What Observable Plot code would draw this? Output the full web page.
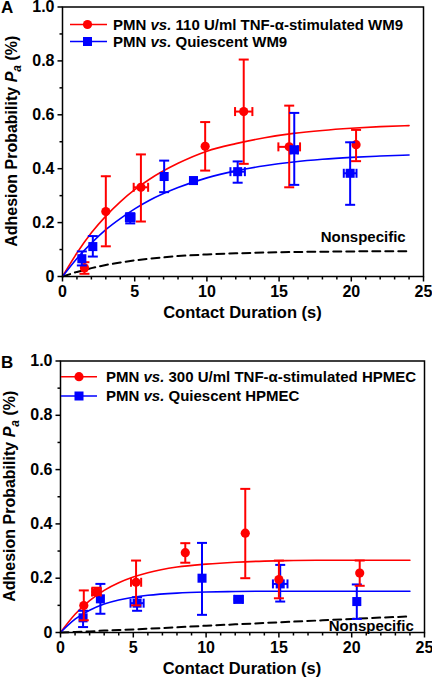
<!DOCTYPE html>
<html>
<head>
<meta charset="utf-8">
<script src="https://cdn.jsdelivr.net/npm/d3@7"></script>
<script src="https://cdn.jsdelivr.net/npm/@observablehq/plot@0.6"></script>
<style>
  html, body { margin: 0; padding: 0; background: #fff; }
  #chart svg { display: block; }
</style>
</head>
<body>
<div id="chart"></div>
<script>
// ---------- Axis ticks ----------
const xMajorTicks = [0, 5, 10, 15, 20, 25];
const xMinorTicks = [1, 2, 3, 4, 6, 7, 8, 9, 11, 12, 13, 14, 16, 17, 18, 19, 21, 22, 23, 24];
const yMajorTicks = [0, 0.2, 0.4, 0.6, 0.8, 1.0];
const yMajorLabels = ["0", "0.2", "0.4", "0.6", "0.8", "1.0"];
const yMinorTicks = [0.1, 0.3, 0.5, 0.7, 0.9];

// ---------- Panel A : WM9 ----------
const aRedT  = [1.52, 3.0, 5.43, 9.88, 12.55, 15.7, 20.33];
const aRedP  = [0.032, 0.241, 0.331, 0.483, 0.612, 0.481, 0.489];
const aRedLo = [0.010, 0.112, 0.204, 0.393, 0.418, 0.331, 0.428];
const aRedHi = [0.053, 0.372, 0.453, 0.573, 0.805, 0.634, 0.544];
const aRedTe = [0, 0, 0.5, 0, 0.6, 0.75, 0];

const aBlueT  = [1.34, 2.1, 4.69, 7.04, 9.07, 12.13, 16.05, 19.92];
const aBlueP  = [0.066, 0.111, 0.218, 0.371, 0.356, 0.389, 0.470, 0.383];
const aBlueLo = [0.041, 0.074, 0.197, 0.313, 0.356, 0.348, 0.340, 0.266];
const aBlueHi = [0.093, 0.150, 0.235, 0.430, 0.356, 0.427, 0.607, 0.498];
const aBlueTe = [0, 0, 0.3, 0, 0, 0.5, 0.25, 0.44];

const curveT = [0, 1, 2, 3, 4, 5, 6, 8, 10, 12, 14, 16, 18, 20, 22, 24];
const aRedFit  = [0, 0.087, 0.162, 0.224, 0.277, 0.322, 0.360, 0.420, 0.465, 0.493, 0.515, 0.531, 0.542, 0.550, 0.556, 0.560];
const aBlueFit = [0, 0.067, 0.124, 0.174, 0.215, 0.251, 0.282, 0.330, 0.366, 0.392, 0.411, 0.425, 0.435, 0.442, 0.447, 0.451];
const aNonspec = [0, 0.017, 0.031, 0.043, 0.052, 0.060, 0.066, 0.076, 0.082, 0.086, 0.089, 0.091, 0.092, 0.093, 0.094, 0.094];

const aLegend = ["110 U/ml TNF-\u03b1-stimulated WM9", "Quiescent WM9"];

// ---------- Panel B : HPMEC ----------
const bRedT  = [1.6, 2.47, 5.19, 8.57, 12.69, 15.0, 20.55];
const bRedP  = [0.099, 0.149, 0.185, 0.294, 0.366, 0.195, 0.219];
const bRedLo = [0.045, 0.138, 0.100, 0.257, 0.200, 0.126, 0.172];
const bRedHi = [0.155, 0.165, 0.265, 0.329, 0.529, 0.265, 0.265];
const bRedTe = [0, 0.3, 0.35, 0, 0, 0, 0];

const bBlueT  = [1.55, 2.74, 5.26, 9.72, 12.23, 15.09, 20.35];
const bBlueP  = [0.054, 0.124, 0.108, 0.200, 0.122, 0.179, 0.114];
const bBlueLo = [0.020, 0.069, 0.080, 0.065, 0.122, 0.114, 0.050];
const bBlueHi = [0.080, 0.179, 0.130, 0.330, 0.122, 0.249, 0.177];
const bBlueTe = [0, 0, 0.45, 0, 0.3, 0.5, 0];

const bRedFit  = [0, 0.067, 0.117, 0.155, 0.183, 0.204, 0.220, 0.241, 0.252, 0.259, 0.263, 0.265, 0.266, 0.266, 0.266, 0.266];
const bBlueFit = [0, 0.049, 0.082, 0.105, 0.120, 0.130, 0.137, 0.145, 0.149, 0.151, 0.152, 0.152, 0.152, 0.152, 0.152, 0.152];
const bNonspec = [0, 0.002, 0.004, 0.007, 0.009, 0.011, 0.014, 0.019, 0.025, 0.030, 0.035, 0.040, 0.045, 0.050, 0.055, 0.059];

const bLegend = ["300 U/ml TNF-\u03b1-stimulated HPMEC", "Quiescent HPMEC"];

// ---------- helpers ----------
const RED = "#ff0000", BLUE = "#0000ff";
const FONT = "'Liberation Sans', Arial, Helvetica, sans-serif";

const pts = (T, P, Lo, Hi, Te) => T.map((t, i) => ({t, p: P[i], lo: Lo[i], hi: Hi[i], te: Te[i]}));
const crv = (Y) => curveT.map((t, i) => ({t, p: Y[i]}));

const rOf = (size) => Math.sqrt(size / Math.PI);
const capH = {draw(ctx, s) { const w = rOf(s); ctx.moveTo(-w, 0); ctx.lineTo(w, 0); }};
const capV = {draw(ctx, s) { const w = rOf(s); ctx.moveTo(0, -w); ctx.lineTo(0, w); }};
const tickLeft = {draw(ctx, s) { const w = rOf(s); ctx.moveTo(-w, 0); ctx.lineTo(0, 0); }};
const tickDown = {draw(ctx, s) { const w = rOf(s); ctx.moveTo(0, 0); ctx.lineTo(0, w); }};

function seriesMarks(data, color, symbol) {
  const withY = data.filter(d => d.hi > d.lo);
  const withX = data.filter(d => d.te > 0);
  return [
    Plot.ruleX(withY, {x: "t", y1: "lo", y2: "hi", stroke: color, strokeWidth: 2}),
    Plot.dot(withY, {x: "t", y: "hi", symbol: capH, r: 5, stroke: color, strokeWidth: 2}),
    Plot.dot(withY, {x: "t", y: "lo", symbol: capH, r: 5, stroke: color, strokeWidth: 2}),
    Plot.ruleY(withX, {y: "p", x1: d => d.t - d.te, x2: d => d.t + d.te, stroke: color, strokeWidth: 2}),
    Plot.dot(withX, {x: d => d.t - d.te, y: "p", symbol: capV, r: 4.5, stroke: color, strokeWidth: 2}),
    Plot.dot(withX, {x: d => d.t + d.te, y: "p", symbol: capV, r: 4.5, stroke: color, strokeWidth: 2}),
    Plot.dot(data, {x: "t", y: "p", symbol, r: symbol === "circle" ? 4.6 : 5.1, fill: color, stroke: null})
  ];
}

function axisMarks() {
  return [
    Plot.dot(yMinorTicks, {x: () => 0, y: d => d, symbol: tickLeft, r: 3, stroke: "#000", strokeWidth: 1.5}),
    Plot.dot(yMajorTicks, {x: () => 0, y: d => d, symbol: tickLeft, r: 5, stroke: "#000", strokeWidth: 1.5}),
    Plot.dot(xMinorTicks, {x: d => d, y: () => 0, symbol: tickDown, r: 3, stroke: "#000", strokeWidth: 1.5}),
    Plot.dot(xMajorTicks, {x: d => d, y: () => 0, symbol: tickDown, r: 5, stroke: "#000", strokeWidth: 1.5}),
    Plot.text(yMajorTicks, {x: () => 0, y: d => d, text: (d, i) => yMajorLabels[i], textAnchor: "end", dx: -8,
      fontSize: 16, fontWeight: "bold", fill: "#000"}),
    Plot.text(xMajorTicks, {x: d => d, y: () => 0, text: d => String(d), dy: 15,
      fontSize: 16, fontWeight: "bold", fill: "#000"}),
    Plot.frame({stroke: "#000", strokeWidth: 1.5})
  ];
}

function panel(cfg) {
  const red = pts(...cfg.red), blue = pts(...cfg.blue);
  const redS = seriesMarks(red, RED, "circle");
  const blueS = seriesMarks(blue, BLUE, "square");
  const plot = Plot.plot({
    width: 432,
    height: 343,
    marginLeft: cfg.ml, marginRight: cfg.mr, marginTop: cfg.mt, marginBottom: cfg.mb,
    x: {domain: [0, 25], axis: null},
    y: {domain: [0, 1], axis: null},
    style: {fontFamily: FONT, fontSize: "15px", fontWeight: "bold", color: "#000", background: "#fff", overflow: "visible"},
    marks: [
      Plot.line(crv(cfg.nonspec), {x: "t", y: "p", stroke: "#000", strokeWidth: 2, strokeDasharray: "8,5"}),
      Plot.line(crv(cfg.redFit), {x: "t", y: "p", stroke: RED, strokeWidth: 1.6, curve: "monotone-x"}),
      Plot.line(crv(cfg.blueFit), {x: "t", y: "p", stroke: BLUE, strokeWidth: 1.6, curve: "monotone-x"}),
      ...(cfg.redFirst ? [...redS, ...blueS] : [...blueS, ...redS]),
      ...axisMarks()
    ]
  });

  const sx = plot.scale("x"), sy = plot.scale("y");
  const X = v => sx.apply(v), Y = v => sy.apply(v);
  const svg = d3.select(plot);
  const g = svg.append("g").attr("font-family", FONT).attr("font-weight", "bold")
    .attr("fill", "#000").attr("text-anchor", "start");

  // panel letter
  g.append("text").attr("x", 1).attr("y", cfg.letterY).attr("font-size", 17).text(cfg.letter);

  // y title
  const yt = g.append("text")
    .attr("transform", `translate(${cfg.yTitleX},${(Y(0) + Y(1)) / 2}) rotate(-90)`)
    .attr("text-anchor", "middle").attr("font-size", 16);
  yt.append("tspan").text("Adhesion Probability ");
  yt.append("tspan").attr("font-style", "italic").text("P");
  yt.append("tspan").attr("font-style", "italic").attr("font-size", 12).attr("dy", 4).text("a");
  yt.append("tspan").attr("dy", -4).text(" (%)");

  // x title
  g.append("text").attr("x", (X(0) + X(25)) / 2).attr("y", Y(0) + 42)
    .attr("text-anchor", "middle").attr("font-size", 16.5).text("Contact Duration (s)");

  // Nonspecific label
  g.append("text").attr("x", X(cfg.nsX)).attr("y", Y(cfg.nsY))
    .attr("text-anchor", "end").attr("font-size", 15).text("Nonspecific");

  // legend
  const L = cfg.legend;
  [[RED, "circle", cfg.legendText[0]], [BLUE, "square", cfg.legendText[1]]].forEach(([c, s, label], i) => {
    const yy = L.y + i * L.dy;
    g.append("line").attr("x1", L.x0).attr("x2", L.x1).attr("y1", yy).attr("y2", yy)
      .attr("stroke", c).attr("stroke-width", 1.6);
    if (s === "circle") g.append("circle").attr("cx", L.xm).attr("cy", yy).attr("r", 4.6).attr("fill", c);
    else g.append("rect").attr("x", L.xm - 4.5).attr("y", yy - 4.5).attr("width", 9).attr("height", 9).attr("fill", c);
    const t = g.append("text").attr("x", L.xt).attr("y", yy + 5.3).attr("font-size", 15);
    t.append("tspan").text("PMN ");
    t.append("tspan").attr("font-style", "italic").text("vs.");
    t.append("tspan").text(" " + label);
  });

  return plot;
}

const root = document.getElementById("chart");
root.appendChild(panel({
  red: [aRedT, aRedP, aRedLo, aRedHi, aRedTe],
  blue: [aBlueT, aBlueP, aBlueLo, aBlueHi, aBlueTe],
  redFit: aRedFit, blueFit: aBlueFit, nonspec: aNonspec,
  redFirst: true,
  ml: 62, mr: 9, mt: 6.5, mb: 67,
  letter: "A", letterY: 13,
  yTitleX: 17,
  nsX: 23.8, nsY: 0.128,
  legend: {x0: 70, x1: 107, xm: 87.5, xt: 113, y: 24.5, dy: 17},
  legendText: aLegend
}));
root.appendChild(panel({
  red: [bRedT, bRedP, bRedLo, bRedHi, bRedTe],
  blue: [bBlueT, bBlueP, bBlueLo, bBlueHi, bBlueTe],
  redFit: bRedFit, blueFit: bBlueFit, nonspec: bNonspec,
  redFirst: false,
  ml: 60, mr: 8, mt: 17.5, mb: 54,
  letter: "B", letterY: 25,
  yTitleX: 15,
  nsX: 24.3, nsY: 0.004,
  legend: {x0: 61, x1: 97, xm: 79, xt: 106, y: 33.7, dy: 19.3},
  legendText: bLegend
}));
</script>
</body>
</html>
